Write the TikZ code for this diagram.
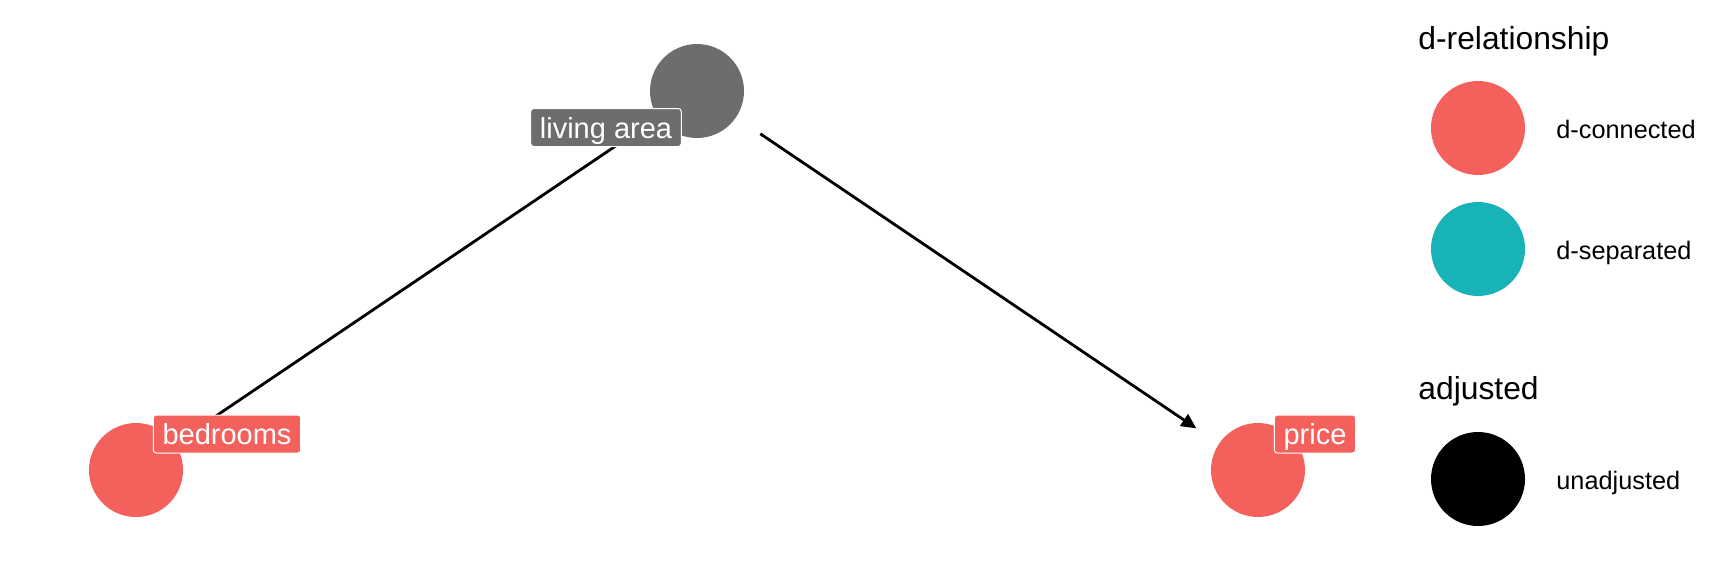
\documentclass[tikz,border=0pt]{standalone}
\usepackage{fontspec}
\setmainfont{Liberation Sans}
\usetikzlibrary{arrows.meta}
\definecolor{dred}{HTML}{F4605C}
\definecolor{dteal}{HTML}{18B3B7}
\definecolor{dgray}{HTML}{6D6D6D}
\begin{document}
\begin{tikzpicture}[x=0.5pt,y=-0.5pt,
  dot/.style={circle,inner sep=0pt,minimum size=47pt},
  nlabel/.style={rounded corners=1.5pt,draw=white,line width=0.5pt,text=white,
    font=\fontsize{14.5pt}{17pt}\selectfont,inner xsep=4.6pt,inner ysep=0pt,
    minimum height=19pt,text height=12pt,text depth=1.4pt},
  edge/.style={line width=1.4pt,-{Triangle[length=7.5pt,width=7pt]},
    shorten <=14.5pt,shorten >=13.5pt},
  ltitle/.style={anchor=base west,inner sep=0pt,font=\fontsize{15.9pt}{19pt}\selectfont},
  ltext/.style={anchor=base west,inner sep=0pt,font=\fontsize{12.65pt}{15pt}\selectfont}]
\useasboundingbox (0,0) rectangle (1728,570);
% nodes
\node[dot,fill=dgray] (liv) at (697,91) {};
\node[dot,fill=dred] (bed) at (136,470) {};
\node[dot,fill=dred] (price) at (1258,470) {};
% edges
\draw[edge,shorten >=11pt] (liv) -- (bed);
\draw[edge] (liv) -- (price);
% labels
\node[nlabel,fill=dgray] (livlab) at (606,127.5) {living area};
\node[nlabel,fill=dred] (bedlab) at (227,434) {bedrooms};
\node[nlabel,fill=dred] (pricelab) at (1315,434) {price};
% legend
\node[ltitle] (t1) at (1418,49) {d-relationship};
\node[dot,fill=dred] (k1) at (1478,128) {};
\node[ltext] (l1) at (1556,138) {d-connected};
\node[dot,fill=dteal] (k2) at (1478,249) {};
\node[ltext] (l2) at (1556,259) {d-separated};
\node[ltitle] (t2) at (1418,399) {adjusted};
\node[dot,fill=black] (k3) at (1478,479) {};
\node[ltext] (l3) at (1556,489) {unadjusted};
\end{tikzpicture}
\end{document}
